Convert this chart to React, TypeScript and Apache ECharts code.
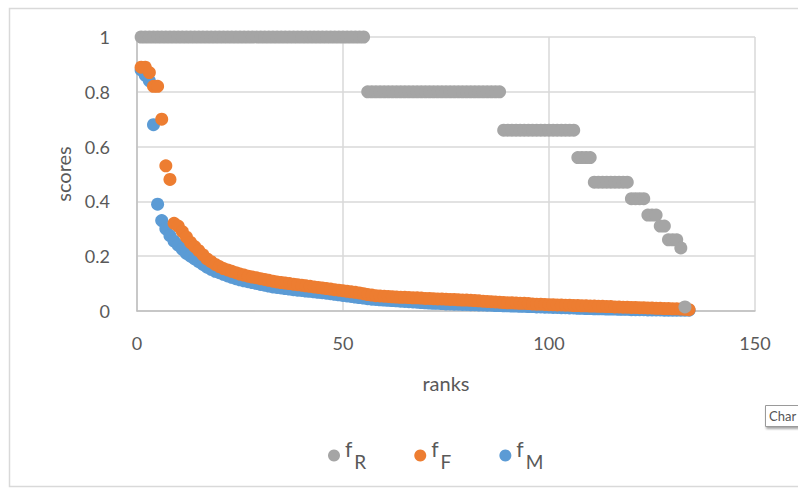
import React, { useEffect, useRef } from "react";
import * as echarts from "echarts";

// fR: run-length levels (value, number of consecutive ranks)
const fRLevels = [1, 0.8, 0.66, 0.56, 0.47, 0.41, 0.35, 0.31, 0.26, 0.23, 0.015];
const fRCounts = [55, 33, 18, 4, 9, 4, 3, 2, 3, 1, 1];

const fFValues = [
  0.89, 0.89, 0.87, 0.82, 0.82, 0.70, 0.53, 0.48, 0.32, 0.31,
  0.29, 0.27, 0.25, 0.235, 0.22, 0.205, 0.19, 0.18, 0.17, 0.162,
  0.155, 0.15, 0.145, 0.14, 0.135, 0.131, 0.127, 0.124, 0.121, 0.118,
  0.115, 0.112, 0.109, 0.106, 0.104, 0.102, 0.1, 0.098, 0.096, 0.094,
  0.092, 0.09, 0.088, 0.086, 0.084, 0.082, 0.08, 0.078, 0.076, 0.074,
  0.072, 0.07, 0.068, 0.066, 0.063, 0.06, 0.058, 0.056, 0.055, 0.054,
  0.053, 0.052, 0.051, 0.05, 0.05, 0.049, 0.048, 0.048, 0.047, 0.046,
  0.046, 0.045, 0.044, 0.044, 0.043, 0.042, 0.042, 0.041, 0.04, 0.04,
  0.039, 0.038, 0.037, 0.036, 0.035, 0.034, 0.033, 0.032, 0.031, 0.03,
  0.03, 0.029, 0.028, 0.028, 0.027, 0.026, 0.025, 0.025, 0.024, 0.023,
  0.023, 0.022, 0.022, 0.021, 0.021, 0.02, 0.02, 0.019, 0.019, 0.018,
  0.018, 0.017, 0.017, 0.016, 0.016, 0.015, 0.015, 0.014, 0.014, 0.013,
  0.013, 0.012, 0.012, 0.011, 0.011, 0.01, 0.01, 0.009, 0.009, 0.008,
  0.008, 0.007, 0.006, 0.005,
];

const fMValues = [
  0.88, 0.86, 0.84, 0.68, 0.39, 0.33, 0.3, 0.275, 0.255, 0.24,
  0.225, 0.21, 0.2, 0.19, 0.18, 0.17, 0.16, 0.152, 0.145, 0.14,
  0.134, 0.128, 0.123, 0.118, 0.114, 0.11, 0.107, 0.104, 0.1, 0.097,
  0.094, 0.091, 0.088, 0.086, 0.084, 0.082, 0.08, 0.078, 0.076, 0.075,
  0.073, 0.072, 0.07, 0.068, 0.067, 0.065, 0.063, 0.061, 0.059, 0.057,
  0.055, 0.053, 0.051, 0.049, 0.047, 0.045, 0.043, 0.042, 0.041, 0.04,
  0.039, 0.038, 0.037, 0.036, 0.035, 0.034, 0.033, 0.032, 0.031, 0.03,
  0.029, 0.028, 0.028, 0.027, 0.026, 0.026, 0.025, 0.025, 0.024, 0.024,
  0.023, 0.023, 0.022, 0.022, 0.021, 0.021, 0.02, 0.02, 0.019, 0.019,
  0.018, 0.018, 0.017, 0.017, 0.016, 0.016, 0.015, 0.015, 0.014, 0.014,
  0.013, 0.013, 0.012, 0.012, 0.011, 0.011, 0.01, 0.01, 0.009, 0.009,
  0.008, 0.008, 0.008, 0.007, 0.007, 0.007, 0.006, 0.006, 0.006, 0.005,
  0.005, 0.005, 0.005, 0.004, 0.004, 0.004, 0.004, 0.003, 0.003, 0.003,
  0.003, 0.003, 0.003, 0.003,
];

const seriesNames = ["fR", "fF", "fM"];
const legendSubs: Record<string, string> = { fR: "R", fF: "F", fM: "M" };
const colors: Record<string, string> = { fR: "#a5a5a5", fF: "#ed7d31", fM: "#5b9bd5" };

const xAxisName = "ranks";
const yAxisName = "scores";
const tooltipText = "Char";

const FONT = "Lato, 'Open Sans', sans-serif";
const TXT = "#595959";

function expandRuns(levels: number[], counts: number[]): number[][] {
  const out: number[][] = [];
  let rank = 1;
  levels.forEach((v, i) => {
    for (let k = 0; k < counts[i]; k++) {
      out.push([rank, v]);
      rank++;
    }
  });
  return out;
}

function toPairs(vals: number[]): number[][] {
  return vals.map((v, i) => [i + 1, v]);
}

export default function App() {
  const ref = useRef<HTMLDivElement>(null);
  useEffect(() => {
    document.body.style.margin = "0";
    if (!ref.current) return;
    const chart = echarts.init(ref.current, undefined, { renderer: "svg" });
    const dataMap: Record<string, number[][]> = {
      fR: expandRuns(fRLevels, fRCounts),
      fF: toPairs(fFValues),
      fM: toPairs(fMValues),
    };
    const zMap: Record<string, number> = { fR: 4, fF: 3, fM: 2 };
    chart.setOption({
      animation: false,
      backgroundColor: "#ffffff",
      textStyle: { fontFamily: FONT },
      grid: { left: 137, right: 43, top: 37, bottom: 178, containLabel: false },
      xAxis: {
        type: "value",
        min: 0,
        max: 150,
        interval: 50,
        name: xAxisName,
        nameLocation: "middle",
        nameGap: 62,
        nameTextStyle: { fontSize: 20, color: TXT, fontFamily: FONT },
        axisLine: { show: true, lineStyle: { color: "#bfbfbf", width: 1.5 } },
        axisTick: { show: false },
        axisLabel: { fontSize: 18, color: TXT, margin: 23, fontFamily: FONT },
        splitLine: { show: true, lineStyle: { color: "#d9d9d9", width: 1.5 } },
      },
      yAxis: {
        type: "value",
        min: 0,
        max: 1,
        interval: 0.2,
        name: yAxisName,
        nameLocation: "middle",
        nameGap: 64,
        nameRotate: 90,
        nameTextStyle: { fontSize: 20, color: TXT, fontFamily: FONT },
        axisLine: { show: true, lineStyle: { color: "#bfbfbf", width: 1.5 } },
        axisTick: { show: false },
        axisLabel: { fontSize: 18, color: TXT, margin: 27, fontFamily: FONT },
        splitLine: { show: true, lineStyle: { color: "#d9d9d9", width: 1.5 } },
      },
      legend: {
        data: seriesNames,
        left: 323,
        top: 433,
        icon: "circle",
        itemWidth: 12,
        itemHeight: 12,
        itemGap: 48,
        formatter: (name: string) => `{sup|f}{sub|${legendSubs[name]}}`,
        textStyle: {
          color: TXT,
          fontFamily: FONT,
          rich: {
            sup: { fontSize: 21, color: TXT, fontFamily: FONT, padding: [0, 0, 14, 0] },
            sub: { fontSize: 19, color: TXT, fontFamily: FONT, padding: [12, 0, 0, 2] },
          },
        },
      },
      series: seriesNames.map((n) => ({
        name: n,
        type: "scatter",
        data: dataMap[n],
        symbol: "circle",
        symbolSize: 13,
        z: zMap[n],
        itemStyle: { color: colors[n], opacity: 1 },
      })),
      graphic: [
        {
          type: "rect",
          shape: { x: 9.5, y: 8.5, width: 800, height: 478 },
          style: { fill: "none", stroke: "#d9d9d9", lineWidth: 1.5 },
          silent: true,
          z: -1,
        },
        {
          type: "rect",
          shape: { x: 765.5, y: 405.5, width: 60, height: 21 },
          style: {
            fill: "#ffffff",
            stroke: "#9a9a9a",
            lineWidth: 1,
            shadowBlur: 2,
            shadowOffsetX: 1,
            shadowOffsetY: 2,
            shadowColor: "rgba(0,0,0,0.35)",
          },
          z: 100,
        },
        {
          type: "text",
          x: 769,
          y: 416,
          style: {
            text: tooltipText,
            fontSize: 13,
            fontFamily: FONT,
            fill: "#555555",
            verticalAlign: "middle",
          },
          z: 101,
        },
      ],
    });
    return () => chart.dispose();
  }, []);
  return <div ref={ref} style={{ width: 798, height: 489 }} />;
}
